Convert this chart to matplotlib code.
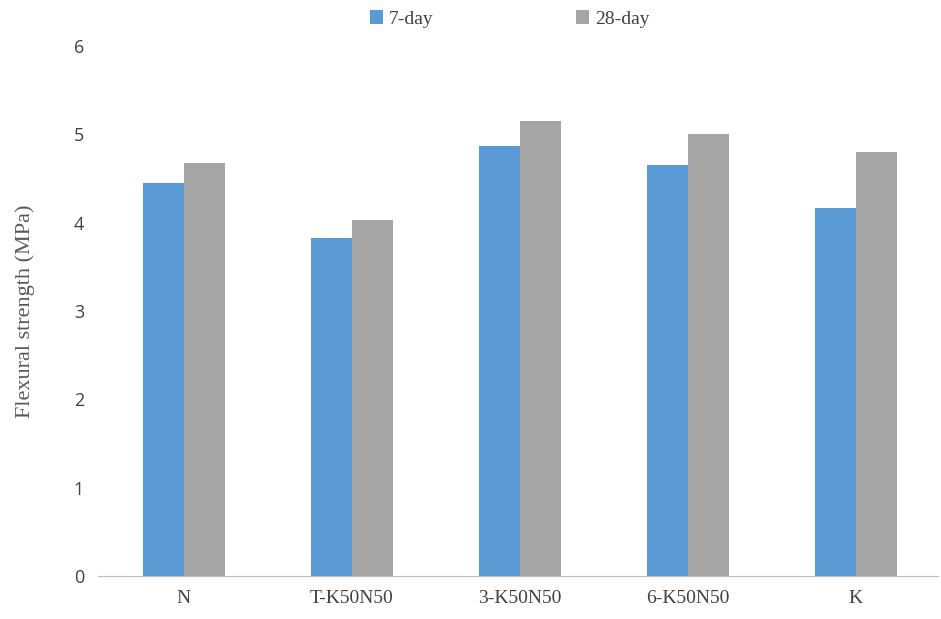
import matplotlib
matplotlib.use("Agg")
import matplotlib.pyplot as plt
import numpy as np

categories = ["N", "T-K50N50", "3-K50N50", "6-K50N50", "K"]
day7 = [4.45, 3.83, 4.87, 4.65, 4.17]
day28 = [4.68, 4.03, 5.15, 5.00, 4.80]

fig = plt.figure(figsize=(9.41, 6.19), dpi=100)
ax = fig.add_axes([98/941, 43/619, 840/941, 530/619])
x = np.arange(len(categories))
w = 0.244
ax.bar(x - w/2, day7, w, color="#5B9BD5", label="7-day")
ax.bar(x + w/2, day28, w, color="#A5A5A5", label="28-day")
ax.set_xlim(-0.51, 4.49)
ax.set_ylim(0, 6)
ax.set_yticks(range(7))
ax.set_yticklabels([str(i) for i in range(7)], fontfamily="Open Sans", fontsize=13, color="#404040")
ax.set_xticks(x)
ax.set_xticklabels(categories, fontfamily="Liberation Serif", fontsize=14, color="#404040")
ax.tick_params(length=0, pad=10)
for s in ["top", "right", "left"]:
    ax.spines[s].set_visible(False)
ax.spines["bottom"].set_color("#BFBFBF")
ax.set_ylabel("Flexural strength (MPa)", fontfamily="Liberation Serif", fontsize=16, color="#595959", labelpad=28)
ax.legend(loc="upper center", bbox_to_anchor=(0.49, 1.10), ncol=2, frameon=False,
          prop={"family": "Liberation Serif", "size": 14}, handlelength=0.7, handleheight=0.7,
          columnspacing=7.3, handletextpad=0.3, labelcolor="#404040")
fig.savefig("out.png", dpi=100)
